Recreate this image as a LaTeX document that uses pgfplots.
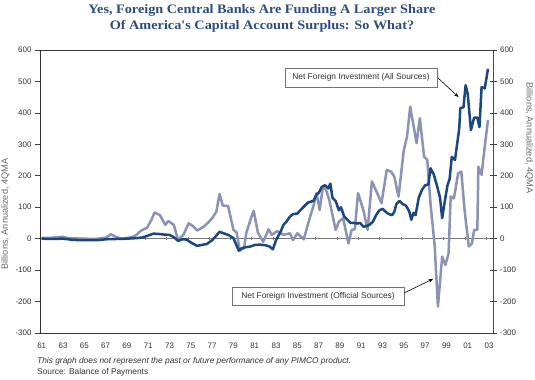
\documentclass[border=0pt]{standalone}
\usepackage{fontspec}
\setmainfont{Liberation Sans}
\newfontfamily\titlefont[FakeStretch=1.1]{Liberation Serif}
\usepackage{pgfplots}
\pgfplotsset{compat=1.18}
\usetikzlibrary{arrows.meta}
\definecolor{allsrc}{RGB}{28,70,128}
\definecolor{offsrc}{RGB}{138,146,182}
\definecolor{titleblue}{RGB}{45,75,130}
\definecolor{txtgray}{RGB}{50,50,50}
\definecolor{lblgray}{RGB}{105,105,105}
\definecolor{zerogray}{RGB}{120,120,120}

\pgfplotstableread{
year val
1961.0 0
1962.0 -1
1963.0 0
1963.5 -2
1964.0 -4
1965.0 -5
1966.0 -5
1966.5 -4
1967.0 -2
1968.0 -1
1969.0 0
1969.5 1
1970.0 2
1970.5 4
1971.0 10
1971.5 16
1972.0 15
1972.5 13
1973.0 12
1973.4 5
1973.8 -7
1974.2 -2
1974.6 -3
1975.0 -12
1975.6 -23
1976.0 -20
1976.5 -17
1977.0 -5
1977.4 10
1977.7 22
1978.0 18
1978.5 12
1979.0 2
1979.5 -38
1979.8 -30
1980.2 -27
1980.6 -25
1981.0 -20
1981.5 -19
1982.0 -21
1982.4 -25
1982.7 -34
1983.0 -5
1983.4 20
1983.7 44
1984.0 55
1984.3 70
1984.6 78
1985.0 80
1985.5 98
1986.0 115
1986.5 120
1986.8 140
1987.0 145
1987.3 165
1987.6 170
1987.9 160
1988.1 175
1988.3 130
1988.6 120
1988.9 90
1989.1 100
1989.4 70
1989.7 60
1990.0 50
1990.3 50
1990.6 48
1990.9 50
1991.2 38
1991.5 40
1991.8 45
1992.1 54
1992.4 75
1992.7 90
1993.0 95
1993.3 85
1993.6 78
1993.9 75
1994.1 85
1994.3 110
1994.6 120
1994.9 110
1995.2 105
1995.5 88
1995.7 60
1995.9 82
1996.1 75
1996.4 130
1996.7 155
1997.0 170
1997.3 172
1997.5 224
1997.8 205
1998.1 170
1998.4 130
1998.6 65
1998.9 130
1999.1 170
1999.3 190
1999.5 260
1999.8 250
2000.0 300
2000.2 350
2000.3 415
2000.6 418
2000.8 488
2001.0 460
2001.3 345
2001.6 385
2001.9 385
2002.1 355
2002.3 482
2002.6 478
2002.9 540
}\allsources

\pgfplotstableread{
year val
1961.0 2
1962.0 3
1962.9 6
1963.5 2
1964.0 1
1965.0 0
1966.0 -1
1967.0 3
1967.5 14
1968.0 5
1968.5 0
1969.0 2
1969.5 5
1969.9 12
1970.3 25
1970.9 35
1971.3 60
1971.6 83
1972.1 75
1972.6 44
1972.9 56
1973.4 44
1973.8 -4
1974.3 12
1974.8 49
1975.2 40
1975.6 26
1976.2 38
1976.6 50
1977.0 65
1977.4 86
1977.7 142
1978.0 105
1978.5 104
1979.0 28
1979.3 20
1979.6 -38
1980.0 -30
1980.2 17
1980.6 60
1980.9 89
1981.3 19
1981.8 -10
1982.3 30
1982.6 12
1983.1 24
1983.7 12
1984.3 17
1984.6 -4
1985.0 17
1985.6 -2
1986.2 70
1986.5 102
1986.8 145
1987.1 91
1987.4 165
1987.7 155
1988.0 123
1988.6 28
1988.9 54
1989.3 65
1989.8 -15
1990.1 28
1990.4 30
1990.7 145
1991.2 91
1991.6 28
1992.0 182
1992.5 145
1992.9 113
1993.4 219
1993.8 213
1994.1 198
1994.5 134
1995.0 282
1995.3 325
1995.6 420
1995.8 380
1996.2 304
1996.5 383
1996.9 261
1997.2 250
1997.5 113
1997.9 -25
1998.2 -216
1998.6 -57
1998.9 -84
1999.2 -47
1999.4 134
1999.7 128
2000.1 208
2000.4 213
2000.7 91
2001.1 -25
2001.4 -15
2001.6 28
2001.9 28
2002.0 229
2002.3 203
2002.6 293
2002.9 378
}\officialsources

\begin{document}
\begin{tikzpicture}
\path[use as bounding box] (0,0) rectangle (535bp,380bp);
% zero line with small ticks
\begin{axis}[
  at={(40bp,47bp)}, anchor=south west, scale only axis,
  width=453.3bp, height=283bp,
  xmin=1960.84, xmax=2003.4, ymin=-300, ymax=600,
  axis x line=middle, axis y line=none,
  axis line style={-, draw=zerogray, line width=0.8bp},
  xtick={1960.73,1962.73,1964.73,1966.73,1968.73,1970.73,1972.73,1974.73,1976.73,1978.73,1980.73,1982.73,1984.73,1986.73,1988.73,1990.73,1992.73,1994.73,1996.73,1998.73,2000.73,2002.73},
  xticklabels={},
  tick align=center, major tick length=3.4bp,
  x tick style={draw=zerogray, line width=0.7bp},
]
\end{axis}
% main axis with data
\begin{axis}[
  at={(40bp,47bp)}, anchor=south west, scale only axis,
  width=453.3bp, height=283bp,
  xmin=1960.84, xmax=2003.4, ymin=-300, ymax=600,
  xtick={1961,1963,...,2003},
  xticklabels={61,63,65,67,69,71,73,75,77,79,81,83,85,87,89,91,93,95,97,99,01,03},
  x tick style={draw=none},
  xtick pos=bottom,
  ytick={-300,-200,...,600},
  ytick pos=left,
  tick align=outside, major tick length=5bp,
  y tick style={draw=black!75, line width=0.7bp},
  axis line style={draw=black!80, line width=0.8bp},
  /pgf/number format/assume math mode=true,
  ticklabel style={font=\fontsize{8}{9}\selectfont, text=txtgray},
  xticklabel style={yshift=-1bp},
]
\addplot[offsrc, line width=2.5bp, no marks, line join=round] table[x=year,y=val] {\officialsources};
\addplot[allsrc, line width=2.5bp, no marks, line join=round] table[x=year,y=val] {\allsources};
\end{axis}
% right axis ticks and labels
\begin{axis}[
  at={(40bp,47bp)}, anchor=south west, scale only axis,
  width=453.3bp, height=283bp,
  xmin=1960.84, xmax=2003.4, ymin=-300, ymax=600,
  axis x line=none, axis y line*=right,
  ytick={-300,-200,...,600},
  tick align=center, major tick length=6.6bp,
  y tick style={draw=black!75, line width=0.7bp},
  axis line style={-, draw=black!70, line width=0.8bp},
  /pgf/number format/assume math mode=true,
  ticklabel style={font=\fontsize{8}{9}\selectfont, text=txtgray},
]
\end{axis}
% title
\node[anchor=base, text=titleblue, font=\titlefont\bfseries\fontsize{13}{15}\selectfont] at (262bp,366bp) {Yes, Foreign Central Banks Are Funding A Larger Share};
\node[anchor=base, text=titleblue, font=\titlefont\bfseries\fontsize{13}{15}\selectfont] at (262bp,350bp) {Of America's Capital Account Surplus: So What?};
% axis labels
\node[rotate=90, text=lblgray, font=\fontsize{9.2}{11}\selectfont] at (5.5bp,166bp) {Billions, Annualized, 4QMA};
\node[rotate=-90, text=lblgray, font=\fontsize{9.2}{11}\selectfont] at (529bp,242bp) {Billions, Annualized, 4QMA};
% annotations
\node[draw=black!55, line width=0.7bp, fill=white, minimum width=152bp, minimum height=19bp, inner sep=0pt, text=txtgray, font=\fontsize{8.4}{10}\selectfont] at (361bp,302.5bp) {Net Foreign Investment (All Sources)};
\draw[line width=0.6bp, -{Stealth[length=4.5bp,width=3.5bp]}] (438bp,302bp) -- (458.5bp,283bp);
\node[draw=black!55, line width=0.7bp, fill=white, minimum width=172bp, minimum height=18bp, inner sep=0pt, text=txtgray, font=\fontsize{8.4}{10}\selectfont] at (318bp,84bp) {Net Foreign Investment (Official Sources)};
\draw[line width=0.6bp, -{Stealth[length=4.5bp,width=3.5bp]}] (404bp,87bp) -- (433bp,101bp);
% footer
\node[anchor=base west, text=txtgray, font=\itshape\fontsize{8.4}{10}\selectfont, inner sep=0pt] at (37bp,16.5bp) {This graph does not represent the past or future performance of any PIMCO product.};
\node[anchor=base west, text=txtgray, font=\fontsize{8.4}{10}\selectfont, inner sep=0pt] at (37bp,5.5bp) {Source: Balance of Payments};
\end{tikzpicture}
\end{document}
